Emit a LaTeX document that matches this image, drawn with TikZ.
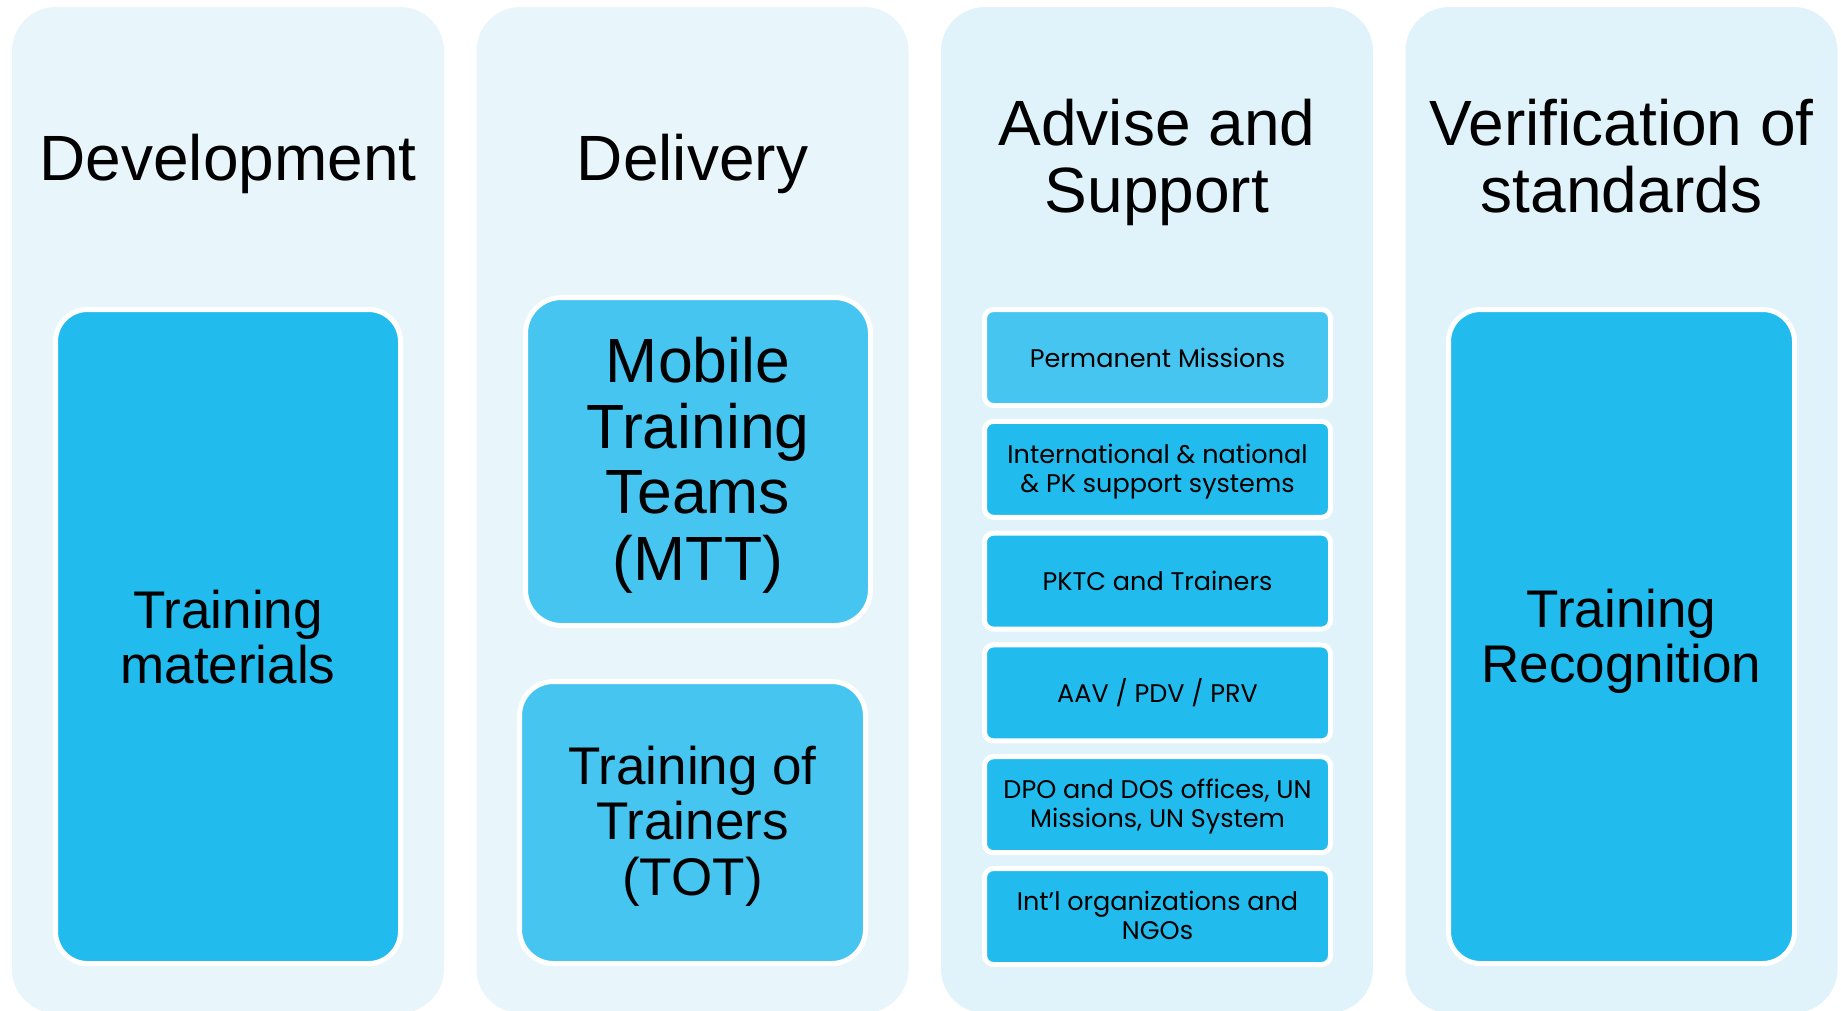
\documentclass[tikz,border=0pt]{standalone}
\usepackage{fontspec}
\setmainfont{Liberation Sans}
\newfontfamily\gothic{Poppins}
\definecolor{colA}{RGB}{232,245,251}
\definecolor{colB}{RGB}{224,242,250}
\definecolor{darkbox}{RGB}{33,187,238}
\definecolor{lightbox}{RGB}{71,197,241}
\begin{document}
\begin{tikzpicture}[x=1pt,y=-1pt,
  colbox/.style={fill=#1, draw=none, rounded corners=44pt, inner sep=0pt,
    minimum width=432pt, minimum height=1006pt},
  bigbox/.style={fill=#1, draw=white, line width=5pt, rounded corners=32pt, inner sep=0pt},
  smallbox/.style={fill=#1, draw=white, line width=5pt, rounded corners=9pt, inner sep=0pt,
    minimum width=346pt, minimum height=96pt},
  title/.style={anchor=base, inner sep=0pt, font=\fontsize{64}{67}\selectfont},
  bigtxt/.style={anchor=base, inner sep=0pt, font=\fontsize{#1}{#1}\selectfont},
  smalltxt/.style={anchor=base, inner sep=0pt, font=\gothic\fontsize{25.5}{25.5}\selectfont}
]
\useasboundingbox (0,0) rectangle (1841,1010);

% columns
\node[colbox=colA] (c1) at (228,510) {};
\node[colbox=colA] (c2) at (692.5,510) {};
\node[colbox=colB] (c3) at (1157,510) {};
\node[colbox=colB] (c4) at (1621.5,510) {};

% titles
\node[title] (t1) at (228,180) {Development};
\node[title] (t2) at (692.5,180) {Delivery};
\node[title] (t3a) at (1157,145) {Advise and};
\node[title] (t3b) at (1157,212) {Support};
\node[title] (t4a) at (1621.5,145) {Verification of};
\node[title] (t4b) at (1621.5,212) {standards};

% column 1
\node[bigbox=darkbox, minimum width=345pt, minimum height=654pt] (tm) at (228,636.5) {};
\node[bigtxt=53] (tm1) at (228,628) {Training};
\node[bigtxt=53] (tm2) at (228,683) {materials};

% column 2
\node[bigbox=lightbox, rounded corners=36pt, minimum width=345pt, minimum height=328pt] (mtt) at (698,461.5) {};
\node[bigtxt=62.5] (mtt1) at (698,382) {Mobile};
\node[bigtxt=62.5] (mtt2) at (698,448) {Training};
\node[bigtxt=62.5] (mtt3) at (698,513) {Teams};
\node[bigtxt=62.5] (mtt4) at (698,580) {(MTT)};

\node[bigbox=lightbox, rounded corners=34pt, minimum width=346pt, minimum height=282pt] (tot) at (692.5,822.5) {};
\node[bigtxt=53] (tot1) at (692.5,784) {Training of};
\node[bigtxt=53] (tot2) at (692.5,839) {Trainers};
\node[bigtxt=53] (tot3) at (692.5,895) {(TOT)};

% column 3
\node[smallbox=lightbox] (s1) at (1157.5,357.5) {};
\node[smallbox=darkbox] (s2) at (1157.5,469.3) {};
\node[smallbox=darkbox] (s3) at (1157.5,581.1) {};
\node[smallbox=darkbox] (s4) at (1157.5,692.9) {};
\node[smallbox=darkbox] (s5) at (1157.5,804.7) {};
\node[smallbox=darkbox] (s6) at (1157.5,916.5) {};
\node[smalltxt] (s1a) at (1157.5,367) {Permanent Missions};
\node[smalltxt] (s2a) at (1157.5,463) {International \& national};
\node[smalltxt] (s2b) at (1157.5,492) {\& PK support systems};
\node[smalltxt] (s3a) at (1157.5,590) {PKTC and Trainers};
\node[smalltxt] (s4a) at (1157.5,702) {AAV / PDV / PRV};
\node[smalltxt] (s5a) at (1157.5,798) {DPO and DOS offices, UN};
\node[smalltxt] (s5b) at (1157.5,827) {Missions, UN System};
\node[smalltxt] (s6a) at (1157.5,910) {Int’l organizations and};
\node[smalltxt] (s6b) at (1157.5,939) {NGOs};

% column 4
\node[bigbox=darkbox, minimum width=346pt, minimum height=654pt] (tr) at (1621.5,636.5) {};
\node[bigtxt=53] (tr1) at (1621.5,627) {Training};
\node[bigtxt=53] (tr2) at (1621.5,682) {Recognition};
\end{tikzpicture}
\end{document}
